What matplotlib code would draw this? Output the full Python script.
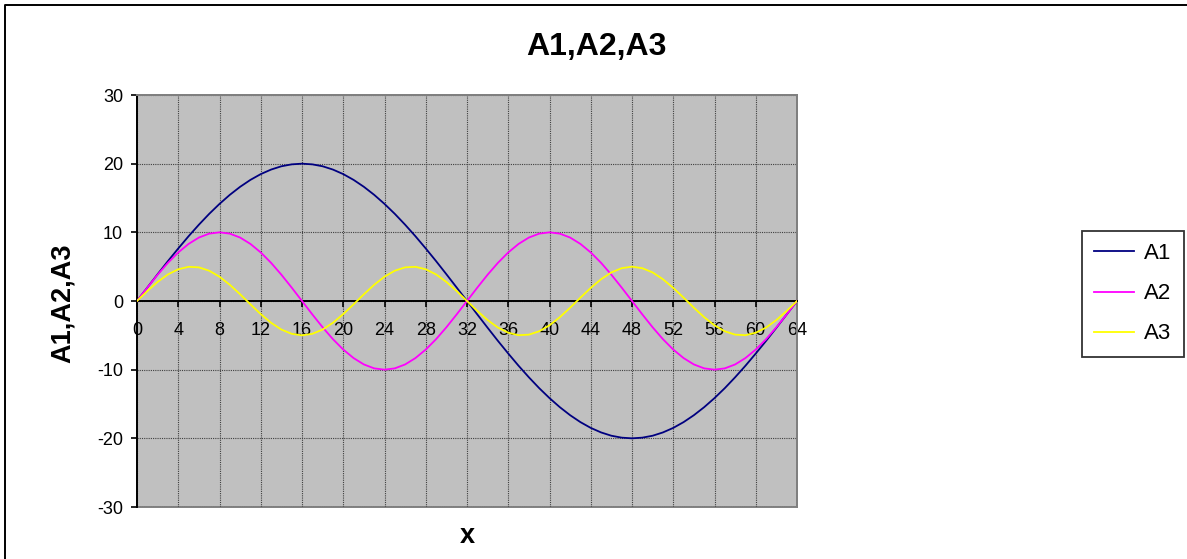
import matplotlib.pyplot as plt
import numpy as np
from matplotlib.patches import Rectangle
from matplotlib.lines import Line2D

plt.rcParams['font.family'] = ['Liberation Sans', 'DejaVu Sans']
plt.rcParams['axes.unicode_minus'] = False

# data (one sample per integer x)
x = np.arange(0, 65)
a1 = [0, 1.96, 3.90, 5.81, 7.65, 9.43, 11.11, 12.69, 14.14, 15.46, 16.63, 17.64, 18.48, 19.14, 19.62, 19.90, 20.00,
      19.90, 19.62, 19.14, 18.48, 17.64, 16.63, 15.46, 14.14, 12.69, 11.11, 9.43, 7.65, 5.81, 3.90, 1.96, 0,
      -1.96, -3.90, -5.81, -7.65, -9.43, -11.11, -12.69, -14.14, -15.46, -16.63, -17.64, -18.48, -19.14, -19.62, -19.90, -20.00,
      -19.90, -19.62, -19.14, -18.48, -17.64, -16.63, -15.46, -14.14, -12.69, -11.11, -9.43, -7.65, -5.81, -3.90, -1.96, 0]
a2 = [0, 1.95, 3.83, 5.56, 7.07, 8.31, 9.24, 9.81, 10.00, 9.81, 9.24, 8.31, 7.07, 5.56, 3.83, 1.95, 0,
      -1.95, -3.83, -5.56, -7.07, -8.31, -9.24, -9.81, -10.00, -9.81, -9.24, -8.31, -7.07, -5.56, -3.83, -1.95, 0,
      1.95, 3.83, 5.56, 7.07, 8.31, 9.24, 9.81, 10.00, 9.81, 9.24, 8.31, 7.07, 5.56, 3.83, 1.95, 0,
      -1.95, -3.83, -5.56, -7.07, -8.31, -9.24, -9.81, -10.00, -9.81, -9.24, -8.31, -7.07, -5.56, -3.83, -1.95, 0]
a3 = [0, 1.45, 2.78, 3.87, 4.62, 4.98, 4.90, 4.41, 3.54, 2.36, 0.98, -0.49, -1.91, -3.17, -4.16, -4.78, -5.00,
      -4.78, -4.16, -3.17, -1.91, -0.49, 0.98, 2.36, 3.54, 4.41, 4.90, 4.98, 4.62, 3.87, 2.78, 1.45, 0,
      -1.45, -2.78, -3.87, -4.62, -4.98, -4.90, -4.41, -3.54, -2.36, -0.98, 0.49, 1.91, 3.17, 4.16, 4.78, 5.00,
      4.78, 4.16, 3.17, 1.91, 0.49, -0.98, -2.36, -3.54, -4.41, -4.90, -4.98, -4.62, -3.87, -2.78, -1.45, 0]
names = ['A1', 'A2', 'A3']
colors = ['#000080', '#FF00FF', '#FFFF00']
xticks = list(range(0, 65, 4))
yticks = [-30, -20, -10, 0, 10, 20, 30]

W, H = 1187, 559
fig = plt.figure(figsize=(W / 100, H / 100), dpi=100)
ax = fig.add_axes([137 / W, 52 / H, 660 / W, 412 / H])
ax.set_facecolor('#C0C0C0')

for ys, name, c in zip([a1, a2, a3], names, colors):
    ax.plot(x, ys, color=c, lw=1.3, label=name, zorder=3)

ax.set_xlim(0, 64)
ax.set_ylim(-30, 30)
ax.set_xticks(xticks)
ax.set_yticks(yticks)
ax.grid(True, color='#404040', linestyle=(0, (1, 1)), lw=0.8)
ax.set_axisbelow(True)

# axes styling, excel-like
ax.spines['bottom'].set_position(('data', 0))
ax.spines['bottom'].set_color('black')
ax.spines['bottom'].set_linewidth(1.4)
ax.spines['bottom'].set_zorder(2.5)
ax.spines['left'].set_color('black')
ax.spines['left'].set_linewidth(1.4)
for s in ['top', 'right']:
    ax.spines[s].set_color('#808080')
    ax.spines[s].set_linewidth(1.4)
ax.add_patch(Rectangle((0, 0), 1, 1, transform=ax.transAxes, fill=False,
                       edgecolor='#808080', lw=1.4, zorder=0.5, clip_on=False))

ax.tick_params(axis='x', direction='out', length=4, width=1.2, pad=11, labelsize=13)
ax.tick_params(axis='y', direction='out', length=4, width=1.2, pad=6, labelsize=13)

fig.text(596 / W, 1 - 47 / H, 'A1,A2,A3', ha='center', va='center',
         fontsize=23, fontweight='bold')
fig.text(63 / W, 1 - 303 / H, 'A1,A2,A3', ha='center', va='center',
         fontsize=19.5, fontweight='bold', rotation=90)
fig.text(467 / W, 1 - 536 / H, 'x', ha='center', va='center',
         fontsize=19.5, fontweight='bold')

leg = fig.legend(loc='upper left', bbox_to_anchor=(1082 / W, 1 - 231 / H),
                 fontsize=16, frameon=True, fancybox=False, handlelength=1.8,
                 handletextpad=0.45, labelspacing=0.86, borderpad=0.55, borderaxespad=0)
leg.get_frame().set_edgecolor('black')
leg.get_frame().set_linewidth(1.3)

# outer chart border (runs off the right and bottom edge)
fig.add_artist(Line2D([5 / W, 5 / W, 1.01], [-0.01, 1 - 5 / H, 1 - 5 / H],
                      transform=fig.transFigure, color='black', lw=1.4))

fig.savefig('out.png', dpi=100)
